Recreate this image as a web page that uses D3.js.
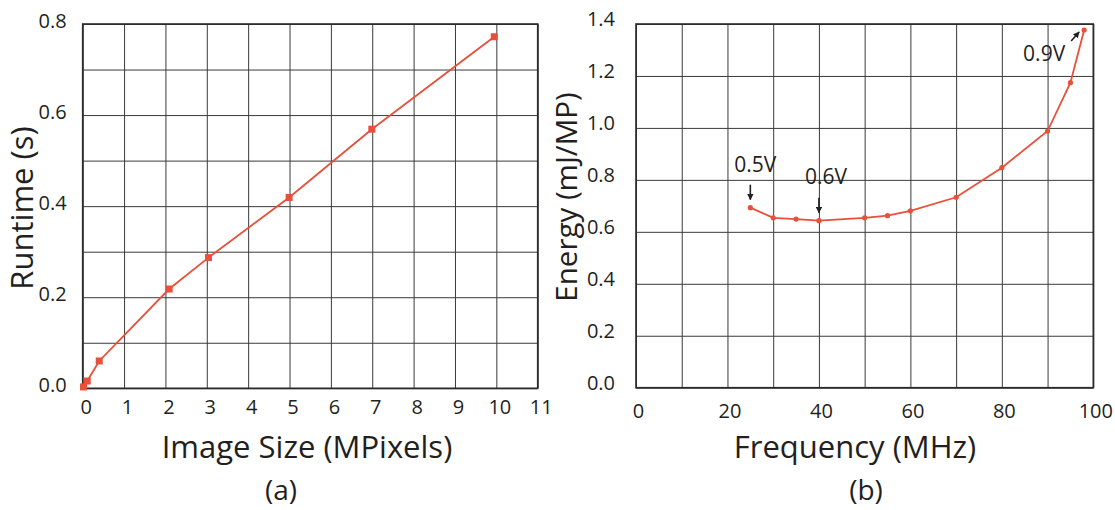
<!DOCTYPE html>
<html>
<head>
<meta charset="utf-8">
<script src="https://cdn.jsdelivr.net/npm/d3@7"></script>
<style>
  html, body { margin: 0; padding: 0; background: #fff; }
  svg { display: block; }
  text { font-family: "Open Sans", "Noto Sans", sans-serif; fill: #231f20; }
</style>
</head>
<body>
<svg id="chart" width="1115" height="510"></svg>
<script>
// ---------- data ----------
// (a) runtime vs image size
const imageSize = [0.02, 0.11, 0.40, 2.09, 3.04, 4.99, 6.99, 9.95];
const runtime   = [0.003, 0.016, 0.060, 0.218, 0.287, 0.419, 0.569, 0.772];
// (b) energy vs frequency
const frequency = [25, 30, 35, 40, 50, 55, 60, 70, 80, 90, 95, 98];
const energy    = [0.693, 0.654, 0.649, 0.643, 0.654, 0.662, 0.681, 0.733, 0.847, 0.988, 1.174, 1.377];
// tick labels
const xTicksA = [0, 1, 2, 3, 4, 5, 6, 7, 8, 9, 10, 11];
const yTicksA = [0, 0.2, 0.4, 0.6, 0.8];
const yGridA  = [0, 0.1, 0.2, 0.3, 0.4, 0.5, 0.6, 0.7, 0.8];
const xTicksB = [0, 20, 40, 60, 80, 100];
const xGridB  = [0, 10, 20, 30, 40, 50, 60, 70, 80, 90, 100];
const yTicksB = [0, 0.2, 0.4, 0.6, 0.8, 1.0, 1.2, 1.4];
// annotations (b)
const voltLabels = [
  { label: "0.5V", f: 25 },
  { label: "0.6V", f: 40 },
  { label: "0.9V", f: 98 }
];

const svg = d3.select("#chart");
const RED = "#e8503a";
const GRID = "#3a3a3a";
const TICK_FS = 20;

svg.append("defs").append("marker")
  .attr("id", "arrow").attr("viewBox", "0 0 10 10")
  .attr("refX", 9).attr("refY", 5)
  .attr("markerWidth", 4).attr("markerHeight", 4)
  .attr("orient", "auto-start-reverse")
  .append("path").attr("d", "M0,0 L10,5 L0,10 z").attr("fill", "#231f20");

function panel(cfg) {
  const g = svg.append("g");
  const x = d3.scaleLinear().domain(cfg.xDomain).range(cfg.xRange);
  const y = d3.scaleLinear().domain(cfg.yDomain).range(cfg.yRange);
  const [x0, x1] = cfg.xRange, [y0, y1] = cfg.yRange;
  const h = y0 - y1, w = x1 - x0;

  // vertical grid
  g.append("g").attr("transform", `translate(0,${y0})`)
    .call(d3.axisBottom(x).tickValues(cfg.xGrid).tickSize(-h).tickFormat(""))
    .call(s => s.select(".domain").remove())
    .call(s => s.selectAll("line").attr("stroke", GRID).attr("stroke-width", 1));
  // horizontal grid
  g.append("g").attr("transform", `translate(${x0},0)`)
    .call(d3.axisLeft(y).tickValues(cfg.yGrid).tickSize(-w).tickFormat(""))
    .call(s => s.select(".domain").remove())
    .call(s => s.selectAll("line").attr("stroke", GRID).attr("stroke-width", 1));
  // frame
  g.append("rect").attr("x", x0).attr("y", y1).attr("width", w).attr("height", h)
    .attr("fill", "none").attr("stroke", "#2a2a2a").attr("stroke-width", 1.6);

  // x tick labels
  const xa = g.append("g").attr("transform", `translate(0,${y0})`)
    .call(d3.axisBottom(x).tickValues(cfg.xTicks).tickSize(0).tickPadding(cfg.xPad).tickFormat(d3.format("d")));
  xa.select(".domain").remove();
  xa.attr("font-size", TICK_FS).attr("font-family", null);
  xa.selectAll("text").attr("fill", "#231f20").attr("dx", cfg.xDx);
  // y tick labels
  const ya = g.append("g").attr("transform", `translate(${x0},0)`)
    .call(d3.axisLeft(y).tickValues(cfg.yTicks).tickSize(0).tickPadding(cfg.yPad).tickFormat(d3.format(".1f")));
  ya.select(".domain").remove();
  ya.attr("font-size", TICK_FS).attr("font-family", null);
  ya.selectAll("text").attr("fill", "#231f20").attr("dy", cfg.yDy);

  // line
  const pts = cfg.xs.map((v, i) => [v, cfg.ys[i]]);
  g.append("path").datum(pts)
    .attr("fill", "none").attr("stroke", RED).attr("stroke-width", 1.8)
    .attr("d", d3.line().x(d => x(d[0])).y(d => y(d[1])));
  if (cfg.marker === "square") {
    g.selectAll(".m").data(pts).join("rect")
      .attr("x", d => x(d[0]) - 3.5).attr("y", d => y(d[1]) - 3.5)
      .attr("width", 7).attr("height", 7).attr("fill", RED);
  } else {
    g.selectAll(".m").data(pts).join("circle")
      .attr("cx", d => x(d[0])).attr("cy", d => y(d[1])).attr("r", 2.6).attr("fill", RED);
  }

  // axis titles
  g.append("text").attr("text-anchor", "middle")
    .attr("transform", `translate(${cfg.yTitlePos[0]},${cfg.yTitlePos[1]}) rotate(-90)`)
    .attr("dy", "0.35em").attr("font-size", cfg.yTitleFs).text(cfg.yTitle);
  g.append("text").attr("text-anchor", "middle")
    .attr("x", cfg.xTitlePos[0]).attr("y", cfg.xTitlePos[1]).attr("dy", "0.35em")
    .attr("font-size", 31).text(cfg.xTitle);
  g.append("text").attr("text-anchor", "middle")
    .attr("x", cfg.capPos[0]).attr("y", cfg.capPos[1]).attr("dy", "0.35em")
    .attr("font-size", 28).text(cfg.caption);

  return { g, x, y };
}

panel({
  xDomain: [0, 11], xRange: [82.7, 537.7],
  yDomain: [0, 0.8], yRange: [388.3, 24],
  xGrid: xTicksA, yGrid: yGridA, xTicks: xTicksA, yTicks: yTicksA,
  xPad: 12, xDx: 3, yPad: 16, yDy: "0.15em",
  xs: imageSize, ys: runtime, marker: "square",
  yTitle: "Runtime (s)", yTitlePos: [22, 208], yTitleFs: 31,
  xTitle: "Image Size (MPixels)", xTitlePos: [307, 447],
  caption: "(a)", capPos: [281, 490]
});

const B = panel({
  xDomain: [0, 100], xRange: [636, 1093.3],
  yDomain: [0, 1.4], yRange: [387.7, 24],
  xGrid: xGridB, yGrid: yTicksB, xTicks: xTicksB, yTicks: yTicksB,
  xPad: 16, xDx: 2, yPad: 21, yDy: "0.07em",
  xs: frequency, ys: energy, marker: "circle",
  yTitle: "Energy (mJ/MP)", yTitlePos: [567, 197], yTitleFs: 29.5,
  xTitle: "Frequency (MHz)", xTitlePos: [855, 447],
  caption: "(b)", capPos: [866, 490]
});

// voltage annotations
const ann = B.g.append("g");
voltLabels.forEach(v => {
  const e = energy[frequency.indexOf(v.f)];
  const px = B.x(v.f), py = B.y(e);
  if (v.f < 90) {
    ann.append("line").attr("x1", px).attr("x2", px)
      .attr("y1", py - 23).attr("y2", py - 8)
      .attr("stroke", "#231f20").attr("stroke-width", 1.6).attr("marker-end", "url(#arrow)");
    ann.append("text").attr("text-anchor", "middle")
      .attr("x", px + (v.f === 25 ? 5 : 7)).attr("y", py - (v.f === 25 ? 43 : 44)).attr("dy", "0.35em")
      .attr("font-size", 21).text(v.label);
  } else {
    ann.append("line").attr("x1", px - 13).attr("y1", py + 11)
      .attr("x2", px - 5).attr("y2", py + 2)
      .attr("stroke", "#231f20").attr("stroke-width", 1.6).attr("marker-end", "url(#arrow)");
    ann.append("text").attr("text-anchor", "middle")
      .attr("x", px - 40).attr("y", py + 24).attr("dy", "0.35em")
      .attr("font-size", 21).text(v.label);
  }
});
</script>
</body>
</html>
